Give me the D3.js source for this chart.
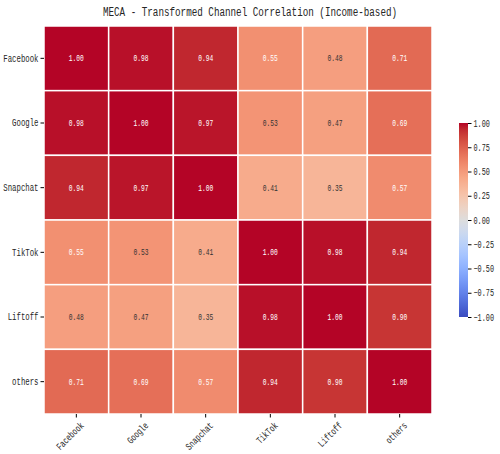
<!DOCTYPE html>
<html>
<head>
<meta charset="utf-8">
<script src="https://cdn.jsdelivr.net/npm/d3@7"></script>
<style>
  body { margin: 0; background: #fff; }
  svg text { font-family: "Liberation Mono", "DejaVu Sans Mono", monospace; fill: #262626; }
</style>
</head>
<body>
<div id="chart"></div>
<script>
const channels = ["Facebook", "Google", "Snapchat", "TikTok", "Liftoff", "others"];
const corrRows = [
    [1.00, 0.98, 0.94, 0.55, 0.48, 0.71],
    [0.98, 1.00, 0.97, 0.53, 0.47, 0.69],
    [0.94, 0.97, 1.00, 0.41, 0.35, 0.57],
    [0.55, 0.53, 0.41, 1.00, 0.98, 0.94],
    [0.48, 0.47, 0.35, 0.98, 1.00, 0.90],
    [0.71, 0.69, 0.57, 0.94, 0.90, 1.00]
];
const cbarTicks = [-1, -0.75, -0.5, -0.25, 0, 0.25, 0.5, 0.75, 1];

// matplotlib coolwarm, sampled every 1/32
const coolwarm = ["#3b4cc0","#445acc","#4d68d7","#5775e1","#6282ea","#6c8ef1","#779af7","#82a5fb",
    "#8db0fe","#98b9ff","#a3c2ff","#aec9fd","#b8d0f9","#c2d5f4","#ccd9ee","#d5dbe6","#dddddd",
    "#e5d8d1","#ecd3c5","#f1ccb8","#f5c4ac","#f7bb9f","#f7b193","#f7a786","#f49a7b","#f18d6f",
    "#ec7f63","#e57058","#de604d","#d55042","#cb3e38","#c0282f","#b40426"];
const colorScale = d3.scaleLinear()
    .domain(coolwarm.map((c, i) => -1 + 2 * i / (coolwarm.length - 1)))
    .range(coolwarm)
    .interpolate(d3.interpolateRgb)
    .clamp(true);

const width = 500, height = 454;
const mLeft = 44, mTop = 26, size = 388;

const svg = d3.select("#chart").append("svg")
    .attr("width", width)
    .attr("height", height);

// narrow glyphs like the original font: fixed advance per char
function narrow(sel, fs, cw) {
    sel.attr("font-size", fs)
        .attr("textLength", function() { return this.textContent.length * cw; })
        .attr("lengthAdjust", "spacingAndGlyphs");
}

svg.append("text")
    .attr("x", 250).attr("y", 16)
    .attr("text-anchor", "middle")
    .text("MECA - Transformed Channel Correlation (Income-based)")
    .call(narrow, 12.5, 5.55);

const x = d3.scaleBand().domain(channels).range([mLeft, mLeft + size]);
const y = d3.scaleBand().domain(channels).range([mTop, mTop + size]);

const cells = [];
corrRows.forEach((row, i) => row.forEach((v, j) => cells.push({r: channels[i], c: channels[j], v: v})));

svg.append("g").selectAll("rect")
    .data(cells)
    .enter()
    .append("rect")
    .attr("x", d => x(d.c))
    .attr("y", d => y(d.r))
    .attr("width", x.bandwidth())
    .attr("height", y.bandwidth())
    .style("fill", d => colorScale(d.v))
    .style("stroke", "#fff")
    .style("stroke-width", 1.5);

function lum(c) {
    const rgb = d3.rgb(c);
    const f = u => { u /= 255; return u <= 0.03928 ? u / 12.92 : Math.pow((u + 0.055) / 1.055, 2.4); };
    return 0.2126 * f(rgb.r) + 0.7152 * f(rgb.g) + 0.0722 * f(rgb.b);
}

svg.append("g").selectAll("text")
    .data(cells)
    .enter()
    .append("text")
    .attr("x", d => x(d.c) + x.bandwidth() / 2)
    .attr("y", d => y(d.r) + y.bandwidth() / 2)
    .attr("text-anchor", "middle")
    .attr("dy", "0.35em")
    .style("fill", d => lum(colorScale(d.v)) > 0.408 ? "#333" : "#fff")
    .text(d => d.v.toFixed(2))
    .call(narrow, 9, 3.75);

// axes
const yAxis = svg.append("g")
    .attr("transform", `translate(${mLeft},0)`)
    .call(d3.axisLeft(y).tickSize(3.5).tickPadding(2));
yAxis.select(".domain").remove();
yAxis.selectAll("text").call(narrow, 10, 4.4);

const xAxis = svg.append("g")
    .attr("transform", `translate(0,${mTop + size})`)
    .call(d3.axisBottom(x).tickSize(3.5).tickPadding(2));
xAxis.select(".domain").remove();
xAxis.selectAll("text")
    .attr("text-anchor", "end")
    .attr("dy", "0.6em")
    .attr("transform", "translate(0,4) rotate(-45)")
    .call(narrow, 10, 4.3);

// colorbar
const cbX = 459, cbY = 123, cbW = 9, cbH = 194;
const defs = svg.append("defs");
const grad = defs.append("linearGradient")
    .attr("id", "cbar")
    .attr("x1", 0).attr("y1", 1).attr("x2", 0).attr("y2", 0);
coolwarm.forEach((c, i) => grad.append("stop")
    .attr("offset", i / (coolwarm.length - 1))
    .attr("stop-color", c));
svg.append("rect")
    .attr("x", cbX).attr("y", cbY)
    .attr("width", cbW).attr("height", cbH)
    .style("fill", "url(#cbar)");

const cbScale = d3.scaleLinear().domain([-1, 1]).range([cbY + cbH, cbY]);
const cbAxis = svg.append("g")
    .attr("transform", `translate(${cbX + cbW},0)`)
    .call(d3.axisRight(cbScale).tickValues(cbarTicks).tickSize(3.5).tickPadding(2)
        .tickFormat(d => d3.format(".2f")(d).replace("-", "\u2212")));
cbAxis.select(".domain").remove();
cbAxis.selectAll("text").call(narrow, 10, 4.1);
</script>
</body>
</html>
